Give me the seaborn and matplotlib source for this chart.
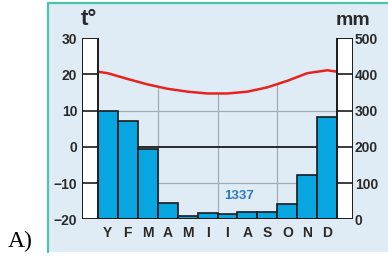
import numpy as np
import pandas as pd
import seaborn as sns
import matplotlib.pyplot as plt
from matplotlib.patches import Rectangle
from matplotlib.lines import Line2D

# Climate data
months = ['Y', 'F', 'M', 'A', 'M', 'I', 'I', 'A', 'S', 'O', 'N', 'D']
precip = [300, 270, 195, 45, 10, 17, 14, 19, 20, 42, 122, 283]
temp = [20.3, 18.7, 17.2, 16.0, 15.2, 14.7, 14.7, 15.2, 16.4, 18.2, 20.3, 21.1]
total_precip = '1337'
temp_ticks = [-20, -10, 0, 10, 20, 30]
precip_ticks = [0, 100, 200, 300, 400, 500]

sns.set_theme(style='white')
plt.rcParams['font.family'] = ['Liberation Sans Narrow', 'Liberation Sans', 'DejaVu Sans']
plt.rcParams['font.weight'] = 'bold'

W, H = 388, 257
fig = plt.figure(figsize=(W / 100, H / 100), dpi=100)

# light blue panel with teal border on left and top
panel_col = '#dfecf6'
teal = '#4cc2b0'
fig.patches.append(Rectangle((47.5 / W, 1 - 251.5 / H), 1 - 47.5 / W, (251.5 - 2.5) / H,
                             transform=fig.transFigure, facecolor=panel_col, edgecolor='none', zorder=-10))
fig.lines.append(Line2D([47.5 / W, 47.5 / W], [1 - 251.5 / H, 1 - 2.5 / H], transform=fig.transFigure,
                        color=teal, lw=1.6, zorder=-9))
fig.lines.append(Line2D([47.5 / W, 1], [1 - 2.5 / H, 1 - 2.5 / H], transform=fig.transFigure,
                        color=teal, lw=1.6, zorder=-9))

ax = fig.add_axes([81.7 / W, 1 - 219.3 / H, 271.6 / W, 181.3 / H])
ax.set_facecolor('none')
ax2 = ax.twinx()
ax.set_zorder(1)
ax2.set_zorder(2)

pos = np.arange(len(months)) + 0.5
n = len(months)

# temperature line (wraps around the year)
tx = np.concatenate([[pos[0] - 1], pos, [pos[-1] + 1]])
ty = np.concatenate([[temp[-1]], temp, [temp[0]]])
sns.lineplot(x=tx, y=ty, ax=ax, color='#e8221e', lw=1.8, sort=False, zorder=5)

# grid: vertical quarter lines up to the curve, horizontal lines
for q in [3, 6, 9]:
    ax.vlines(q, -20, np.interp(q, tx, ty), color='#a3abb3', lw=0.9, zorder=2)
ax.hlines([-10, 10], 0, n, color='#a3abb3', lw=0.9, zorder=2)
ax.hlines(0, 0, n, color='#1a1a1a', lw=1.3, zorder=3)

# precipitation bars
df = pd.DataFrame({'pos': pos, 'precip': precip})
sns.barplot(data=df, x='pos', y='precip', ax=ax2, native_scale=True, width=1,
            color='#08a6e0', saturation=1, edgecolor='#1a1a1a', linewidth=1.2, zorder=3)

# white scale columns at both sides
cw = 0.8
for x0 in [-cw, n]:
    ax2.add_patch(Rectangle((x0, 0), cw, 500, facecolor='white', edgecolor='#1a1a1a', lw=1.4, zorder=6))
    ax2.hlines(precip_ticks[1:-1], x0, x0 + cw, color='#1a1a1a', lw=1.2, zorder=7)
ax2.hlines(0, 0, n, color='#1a1a1a', lw=1.4, zorder=7)

ax2.text(7.1, 64, total_precip, color='#2b7bc0', fontsize=9.5, fontweight='bold',
         ha='center', va='center', zorder=8)

ax.set_xlim(-cw, n + cw)
ax2.set_xlim(-cw, n + cw)
ax.set_ylim(-20, 30)
ax2.set_ylim(0, 500)

ax.set_xticks(pos)
ax.set_xticklabels(months)
ax.set_yticks(temp_ticks)
ax.set_yticklabels([str(t).replace('-', '\u2212') for t in temp_ticks])
ax2.set_yticks(precip_ticks)
ax.tick_params(axis='x', length=0, pad=5, labelsize=10, labelcolor='#2a2a2a')
ax.tick_params(axis='y', length=0, pad=3.2, labelsize=10, labelcolor='#2a2a2a')
ax2.tick_params(axis='y', length=0, pad=1.2, labelsize=10, labelcolor='#2a2a2a')
ax2.tick_params(axis='x', bottom=False, labelbottom=False)
for a in (ax, ax2):
    a.set_xlabel('')
    a.set_ylabel('')
    for s in a.spines.values():
        s.set_visible(False)

fig.text(89 / W, 1 - 25 / H, 't°', fontsize=16, fontweight='bold', color='#2a2a2a',
         ha='center', va='baseline')
fig.text(353 / W, 1 - 25 / H, 'mm', fontsize=14, fontweight='bold', color='#2a2a2a',
         ha='center', va='baseline')
fig.text(8 / W, 1 - 247 / H, 'A)', fontsize=17, fontweight='normal', family='Liberation Serif',
         color='black', ha='left', va='baseline')

fig.savefig('out.png', dpi=100)
